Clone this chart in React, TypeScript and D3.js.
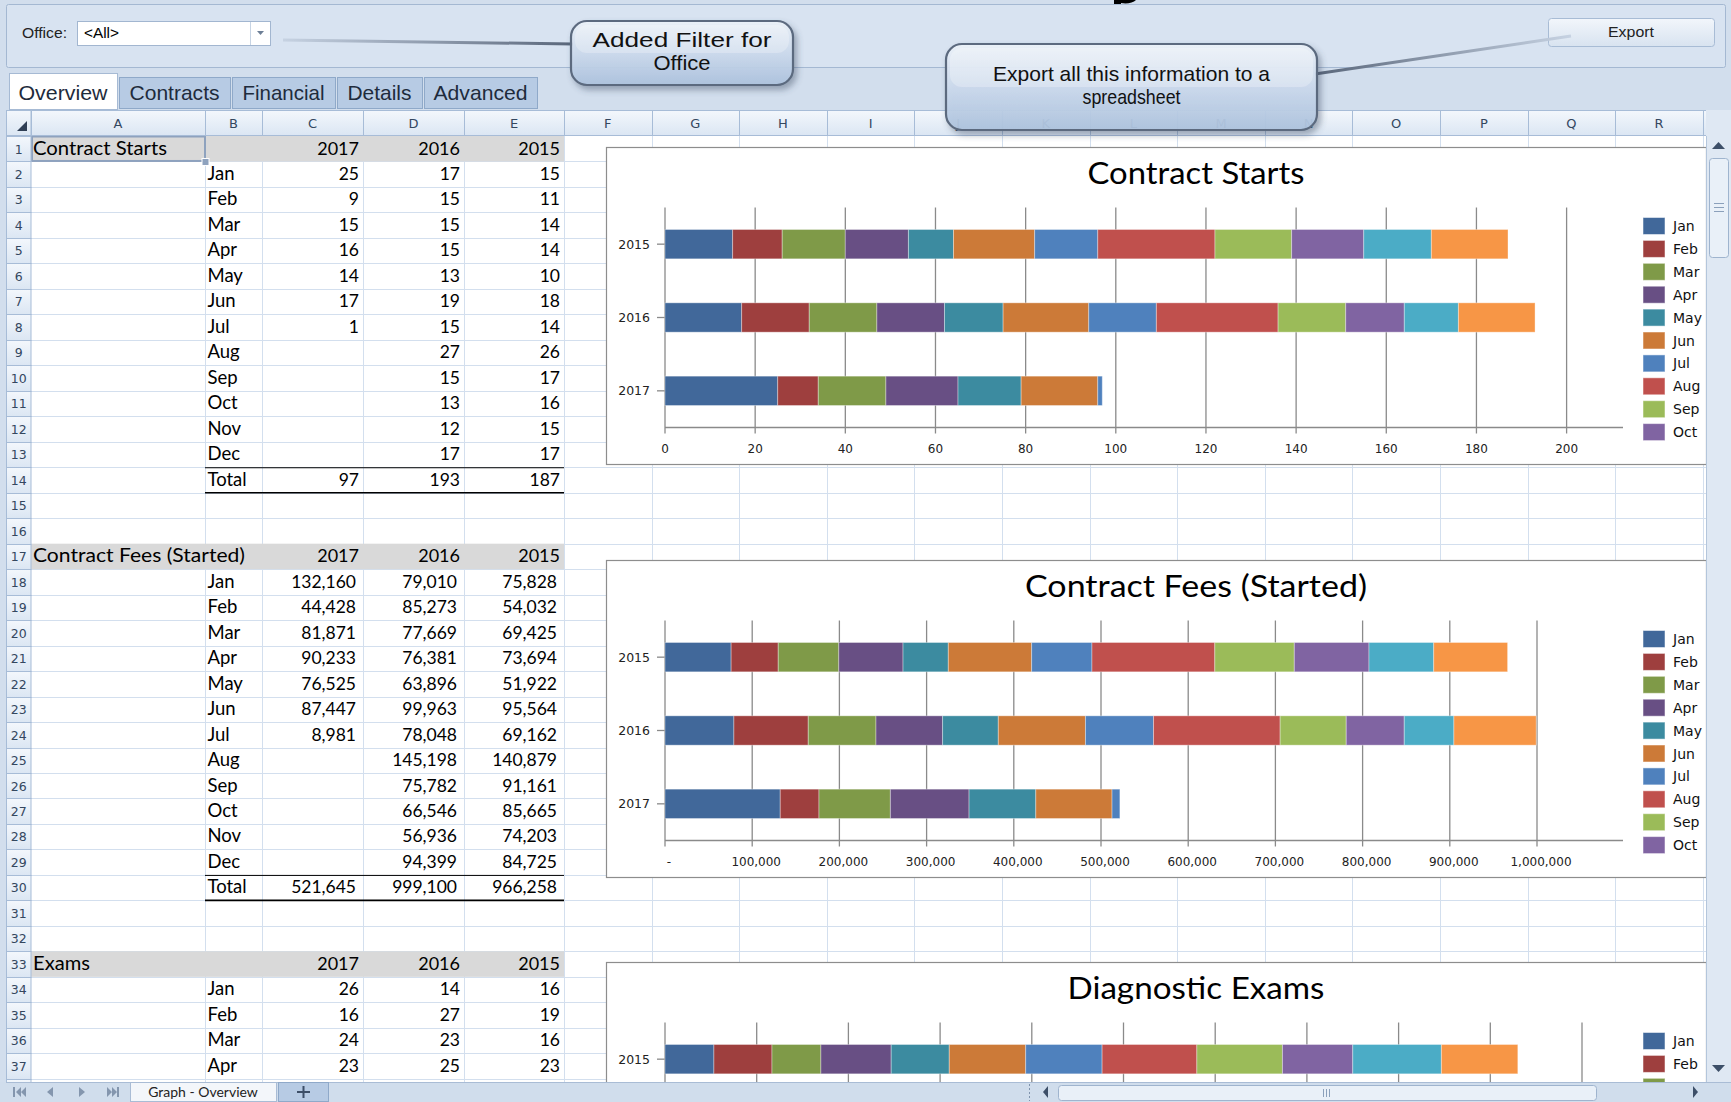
import React from "react";
import * as d3 from "d3";

const months = ["Jan", "Feb", "Mar", "Apr", "May", "Jun", "Jul", "Aug", "Sep", "Oct", "Nov", "Dec"];
const tableYears = ["2017", "2016", "2015"];
const chartYears = ["2015", "2016", "2017"];

const starts2017 = [25, 9, 15, 16, 14, 17, 1];
const starts2016 = [17, 15, 15, 15, 13, 19, 15, 27, 15, 13, 12, 17];
const starts2015 = [15, 11, 14, 14, 10, 18, 14, 26, 17, 16, 15, 17];
const startsTotals = [97, 193, 187]; // 2017, 2016, 2015

const fees2017 = [132160, 44428, 81871, 90233, 76525, 87447, 8981];
const fees2016 = [79010, 85273, 77669, 76381, 63896, 99963, 78048, 145198, 75782, 66546, 56936, 94399];
const fees2015 = [75828, 54032, 69425, 73694, 51922, 95564, 69162, 140879, 91161, 85665, 74203, 84725];
const feesTotals = [521645, 999100, 966258]; // 2017, 2016, 2015

const exams2017 = [26, 16, 24, 23];
const exams2016 = [14, 27, 23, 25];
const exams2015 = [16, 19, 16, 23, 19, 25, 25, 31, 28, 23, 29, 25];

const startsTicks = [0, 20, 40, 60, 80, 100, 120, 140, 160, 180, 200];
const feesTicks = [0, 100000, 200000, 300000, 400000, 500000, 600000, 700000, 800000, 900000, 1000000];
const examsTicks = [0, 30, 60, 90, 120, 150, 180, 210, 240, 270, 300];

const monthColors = [
  "#41689a", "#9e3f3e", "#7f9a48", "#684f84", "#3c8ba0", "#cc7a38",
  "#4f81bd", "#c0504d", "#9bbb59", "#8064a2", "#4bacc6", "#f79646",
];

const columnLetters = ["A", "B", "C", "D", "E", "F", "G", "H", "I", "J", "K", "L", "M", "N", "O", "P", "Q", "R"];
const tabNames = ["Overview", "Contracts", "Financial", "Details", "Advanced"];

// ---------- layout ----------
const W = 1731;
const H = 1102;
const ROW_TOP = 136;
const ROW_H = 25.48;
const rowY = (r: number) => ROW_TOP + (r - 1) * ROW_H;
const colEdges = [31, 205, 262, 363, 464, 564];
for (let k = 1; k <= 13; k++) colEdges.push(564 + k * 87.6);
const SHEET_RIGHT = 1706;
const SHEET_BOTTOM = 1082;

const CELL_FONT = "Lato, 'Open Sans', sans-serif";
const UI_FONT = "'Liberation Sans Narrow', 'Arial Narrow', 'Liberation Sans', sans-serif";
const CHART_FONT = "'DejaVu Sans', Verdana, sans-serif";
const NUM_SIZE = 17.5;
const TXT_SIZE = 18.5;

const fmtInt = d3.format("d");
const fmtComma = d3.format(",");

type SectionProps = {
  startRow: number;
  title: string;
  titleLen: number;
  cols: (number[])[]; // in order 2017, 2016, 2015
  totals?: number[];
  fmt: (n: number) => string;
  pad: number;
  monthRows: number;
};

function Section({ startRow, title, titleLen, cols, totals, fmt, pad, monthRows }: SectionProps) {
  const yTop = rowY(startRow);
  const els: React.ReactNode[] = [];
  els.push(<rect key="bg" x={colEdges[0]} y={yTop} width={colEdges[5] - colEdges[0]} height={ROW_H} fill="#d9d9d9" />);
  els.push(
    <text key="t" x={colEdges[0] + 2} y={yTop + 18.5} fontSize={TXT_SIZE} fontFamily={CELL_FONT} fill="#000" textLength={titleLen} lengthAdjust="spacingAndGlyphs">
      {title}
    </text>
  );
  tableYears.forEach((yr, i) => {
    els.push(
      <text key={"y" + yr} x={colEdges[3 + i] - 4} y={yTop + 18.5} fontSize={NUM_SIZE + 0.5} fontFamily={CELL_FONT} textAnchor="end">
        {yr}
      </text>
    );
  });
  for (let j = 0; j < monthRows; j++) {
    const yy = rowY(startRow + 1 + j);
    els.push(
      <text key={"m" + j} x={colEdges[1] + 2.5} y={yy + 18.5} fontSize={TXT_SIZE} fontFamily={CELL_FONT}>
        {months[j]}
      </text>
    );
    cols.forEach((arr, i) => {
      if (arr[j] !== undefined) {
        els.push(
          <text key={"v" + j + "-" + i} x={colEdges[3 + i] - pad} y={yy + 18.5} fontSize={NUM_SIZE} fontFamily={CELL_FONT} textAnchor="end">
            {fmt(arr[j])}
          </text>
        );
      }
    });
  }
  if (totals) {
    const tr = startRow + 13;
    const yy = rowY(tr);
    els.push(<line key="tl1" x1={colEdges[1]} x2={colEdges[5]} y1={yy + 0.5} y2={yy + 0.5} stroke="#000" strokeWidth={1} />);
    els.push(<line key="tl2" x1={colEdges[1]} x2={colEdges[5]} y1={yy + ROW_H} y2={yy + ROW_H} stroke="#000" strokeWidth={1.6} />);
    els.push(
      <text key="tt" x={colEdges[1] + 2.5} y={yy + 18.5} fontSize={TXT_SIZE} fontFamily={CELL_FONT}>
        Total
      </text>
    );
    totals.forEach((v, i) => {
      els.push(
        <text key={"tv" + i} x={colEdges[3 + i] - pad} y={yy + 18.5} fontSize={NUM_SIZE} fontFamily={CELL_FONT} textAnchor="end">
          {fmt(v)}
        </text>
      );
    });
  }
  return <g>{els}</g>;
}

type ChartProps = {
  top: number;
  title: string;
  titleLen: number;
  byYear: (number[])[]; // order 2015, 2016, 2017
  ticks: number[];
  xEnd: number;
  tickFormat: (n: number) => string;
  labelShift?: number;
};

function StackedBarChart({ top, title, titleLen, byYear, ticks, xEnd, tickFormat, labelShift = 0 }: ChartProps) {
  const X0 = 665;
  const x = d3.scaleLinear().domain([0, ticks[ticks.length - 1]]).range([X0, xEnd]);
  const y = d3.scaleBand<string>().domain(chartYears).range([top + 60.5, top + 280.5]);
  const table = chartYears.map((yr, i) => {
    const row: any = { year: yr };
    months.forEach((m, j) => {
      row[m] = byYear[i][j] ?? 0;
    });
    return row;
  });
  const series = d3.stack<any>().keys(months)(table);
  const bh = y.bandwidth() * 0.4;
  const axisY = top + 280.5;
  const visible = (yy: number) => yy < SHEET_BOTTOM;
  return (
    <g>
      <rect x={606.5} y={top + 0.5} width={1100} height={317} fill="#fff" stroke="#8d8d8d" strokeWidth={1.2} />
      <text
        x={1196}
        y={top + 37}
        textAnchor="middle"
        fontSize={30}
        fontFamily={CELL_FONT}
        fill="#000"
        textLength={titleLen}
        lengthAdjust="spacingAndGlyphs"
      >
        {title}
      </text>
      {ticks.map((t) => (
        <line key={"g" + t} x1={x(t)} x2={x(t)} y1={top + 60.5} y2={axisY + 6} stroke="#8a8a8a" strokeWidth={1.3} />
      ))}
      <line x1={X0} x2={1623} y1={axisY} y2={axisY} stroke="#8a8a8a" strokeWidth={1.3} />
      {chartYears.map((yr) => {
        const cy = (y(yr) as number) + y.bandwidth() / 2;
        return (
          <g key={"c" + yr}>
            <line x1={657} x2={X0} y1={cy} y2={cy} stroke="#8a8a8a" strokeWidth={1.3} />
            {visible(cy + 4.5) && (
              <text x={650} y={cy + 4.5} textAnchor="end" fontSize={12.5} fontFamily={CHART_FONT} fill="#222">
                {yr}
              </text>
            )}
          </g>
        );
      })}
      {series.map((s, k) => (
        <g key={"s" + k} fill={monthColors[k]}>
          {s.map((d: any) => {
            const w = x(d[1]) - x(d[0]);
            if (w <= 0) return null;
            const cy = (y(d.data.year) as number) + y.bandwidth() / 2;
            return (
              <rect
                key={d.data.year}
                x={x(d[0])}
                y={cy - bh / 2}
                width={w}
                height={bh}
                stroke="#ffffff"
                strokeOpacity={0.35}
                strokeWidth={1}
              />
            );
          })}
        </g>
      ))}
      {visible(top + 306) &&
        ticks.map((t) => (
          <text key={"tl" + t} x={x(t) + labelShift} y={top + 306} textAnchor="middle" fontSize={12} fontFamily={CHART_FONT} fill="#222">
            {tickFormat(t)}
          </text>
        ))}
      {months.slice(0, 10).map((m, i) => {
        const cy = top + 79 + i * 22.9;
        if (cy - 8.5 > SHEET_BOTTOM) return null;
        return (
          <g key={"l" + m}>
            <rect x={1643} y={cy - 8.5} width={22} height={17} fill={monthColors[i]} stroke="#fff" strokeOpacity={0.5} />
            {visible(cy + 5) && (
              <text x={1673} y={cy + 5} fontSize={14} fontFamily={CHART_FONT} fill="#111">
                {m}
              </text>
            )}
          </g>
        );
      })}
    </g>
  );
}

function Callout({ x, y, w, h, lines, lens, ys }: { x: number; y: number; w: number; h: number; lines: string[]; lens: number[]; ys: number[] }) {
  return (
    <g>
      <rect x={x} y={y} width={w} height={h} rx={16} ry={16} fill="url(#calloutGrad)" fillOpacity={0.92} stroke="#5b6a7f" strokeWidth={2.2} filter="url(#shadow)" />
      <rect x={x + 4} y={y + 4} width={w - 8} height={h / 2 - 4} rx={12} ry={12} fill="#ffffff" fillOpacity={0.25} />
      {lines.map((l, i) => (
        <text
          key={i}
          x={x + w / 2}
          y={ys[i]}
          textAnchor="middle"
          fontSize={21}
          fontFamily={UI_FONT}
          fill="#111"
          textLength={lens[i]}
          lengthAdjust="spacingAndGlyphs"
        >
          {l}
        </text>
      ))}
    </g>
  );
}

export default function App() {
  const gridH: React.ReactNode[] = [];
  for (let r = 1; r <= 38; r++) {
    const yy = Math.round(rowY(r + 1)) + 0.5;
    gridH.push(<line key={"h" + r} x1={colEdges[0]} x2={SHEET_RIGHT} y1={yy} y2={yy} stroke="#d3dfee" strokeWidth={1} />);
  }
  const gridV = colEdges.slice(1).map((cx, i) => (
    <line key={"v" + i} x1={Math.round(cx) + 0.5} x2={Math.round(cx) + 0.5} y1={ROW_TOP} y2={SHEET_BOTTOM} stroke="#d3dfee" strokeWidth={1} />
  ));

  const tabX = [
    [9, 117],
    [119, 230],
    [232, 335],
    [337, 422],
    [424, 537],
  ];
  const tabTextLen = [89, 90, 82, 64, 94];

  return (
    <svg width={W} height={H} style={{ position: "absolute", left: 0, top: 0, display: "block" }}>
      <defs>
        <linearGradient id="calloutGrad" x1="0" y1="0" x2="0" y2="1">
          <stop offset="0" stopColor="#edf3fa" />
          <stop offset="0.5" stopColor="#cddbee" />
          <stop offset="1" stopColor="#aec4df" />
        </linearGradient>
        <linearGradient id="hdrGrad" x1="0" y1="0" x2="0" y2="1">
          <stop offset="0" stopColor="#f3f7fc" />
          <stop offset="1" stopColor="#dbe6f3" />
        </linearGradient>
        <linearGradient id="btnGrad" x1="0" y1="0" x2="0" y2="1">
          <stop offset="0" stopColor="#f2f6fb" />
          <stop offset="1" stopColor="#d8e3f0" />
        </linearGradient>
        <linearGradient id="lineGrad" x1="0" y1="0" x2="1" y2="0">
          <stop offset="0" stopColor="#c6d2e2" />
          <stop offset="1" stopColor="#59667a" />
        </linearGradient>
        <linearGradient id="lineGrad2" x1="0" y1="0" x2="1" y2="0">
          <stop offset="0" stopColor="#59667a" />
          <stop offset="1" stopColor="#c6d2e2" />
        </linearGradient>
        <filter id="shadow" x="-10%" y="-20%" width="125%" height="150%">
          <feDropShadow dx="3" dy="4" stdDeviation="3" floodColor="#3a4a60" floodOpacity="0.45" />
        </filter>
      </defs>

      {/* page background */}
      <rect x={0} y={0} width={W} height={H} fill="#d2deed" />
      {/* descender of a heading cut off above the screenshot */}
      <path d="M1114,0 L1121,0 L1121,5 L1114,5 Z M1121,0 L1136,0 C1133,3 1127,4 1121,3 Z" fill="#000" />

      {/* toolbar panel */}
      <rect x={6.5} y={4.5} width={1719} height={63} fill="#d8e3f1" stroke="#a4b8d2" strokeWidth={1} rx={2} />
      <text x={22} y={38} fontSize={14.5} fontFamily={UI_FONT} fill="#222" textLength={45} lengthAdjust="spacingAndGlyphs">
        Office:
      </text>
      <rect x={77.5} y={21.5} width={193} height={24} fill="#fff" stroke="#a2b6d0" />
      <line x1={250.5} x2={250.5} y1={22} y2={45} stroke="#c7d4e4" />
      <path d="M257,31 L264,31 L260.5,35 Z" fill="#6d7f96" />
      <text x={84} y={38} fontSize={14} fontFamily={UI_FONT} fill="#000" textLength={35} lengthAdjust="spacingAndGlyphs">
        {"<All>"}
      </text>
      <rect x={1548.5} y={18.5} width={166} height={28} rx={3} fill="url(#btnGrad)" stroke="#a8bcd5" />
      <text x={1631} y={37} textAnchor="middle" fontSize={15} fontFamily={UI_FONT} fill="#222" textLength={46} lengthAdjust="spacingAndGlyphs">
        Export
      </text>

      {/* tabs */}
      {tabNames.map((t, i) => {
        const active = i === 0;
        const [x1, x2] = tabX[i];
        return (
          <g key={t}>
            <rect
              x={x1 + 0.5}
              y={active ? 73.5 : 77.5}
              width={x2 - x1}
              height={active ? 36 : 31}
              fill={active ? "#ffffff" : "#b7cbe4"}
              stroke={active ? "#a6bad4" : "#8fa9c9"}
            />
            <text
              x={(x1 + x2) / 2}
              y={100}
              textAnchor="middle"
              fontSize={21}
              fontFamily={UI_FONT}
              fill="#1e2b3c"
              textLength={tabTextLen[i]}
              lengthAdjust="spacingAndGlyphs"
            >
              {t}
            </text>
          </g>
        );
      })}

      {/* sheet body */}
      <rect x={colEdges[0]} y={ROW_TOP} width={SHEET_RIGHT - colEdges[0]} height={SHEET_BOTTOM - ROW_TOP} fill="#ffffff" />
      {gridH}
      {gridV}

      {/* data sections */}
      <Section startRow={1} title="Contract Starts" titleLen={134} cols={[starts2017, starts2016, starts2015]} totals={startsTotals} fmt={fmtInt} pad={4} monthRows={12} />
      <Section startRow={17} title="Contract Fees (Started)" titleLen={212} cols={[fees2017, fees2016, fees2015]} totals={feesTotals} fmt={fmtComma} pad={7} monthRows={12} />
      <Section startRow={33} title="Exams" titleLen={57} cols={[exams2017, exams2016, exams2015]} fmt={fmtInt} pad={4} monthRows={4} />

      {/* A1 selection */}
      <rect x={colEdges[0] + 1} y={rowY(1) + 0.5} width={colEdges[1] - colEdges[0] - 1} height={ROW_H - 1} fill="none" stroke="#8ea2be" strokeWidth={2} />
      <rect x={colEdges[1] - 3} y={rowY(2) - 3} width={7} height={7} fill="#8ea2be" stroke="#fff" strokeWidth={1} />

      {/* charts */}
      <StackedBarChart
        top={147}
        title="Contract Starts"
        titleLen={217}
        byYear={[starts2015, starts2016, starts2017]}
        ticks={startsTicks}
        xEnd={1566.6}
        tickFormat={(t) => String(t)}
      />
      <StackedBarChart
        top={560}
        title="Contract Fees (Started)"
        titleLen={342}
        byYear={[fees2015, fees2016, fees2017]}
        ticks={feesTicks}
        xEnd={1537}
        tickFormat={(t) => (t === 0 ? "-" : fmtComma(t))}
        labelShift={4}
      />
      <StackedBarChart
        top={962}
        title="Diagnostic Exams"
        titleLen={257}
        byYear={[exams2015, exams2016, exams2017]}
        ticks={examsTicks}
        xEnd={1582}
        tickFormat={(t) => String(t)}
      />

      {/* column headers */}
      <rect x={6.5} y={110.5} width={24.5} height={25} fill="url(#hdrGrad)" stroke="#a7bcd7" />
      <path d="M27,131 L27,121 L17,131 Z" fill="#2f3f55" />
      {columnLetters.map((c, i) => {
        const x1 = colEdges[i];
        const x2 = colEdges[i + 1];
        return (
          <g key={"ch" + c}>
            <rect x={Math.round(x1) + 0.5} y={110.5} width={Math.round(x2) - Math.round(x1)} height={25} fill="url(#hdrGrad)" stroke="#a7bcd7" />
            <text x={(x1 + x2) / 2} y={128} textAnchor="middle" fontSize={13} fontFamily={CHART_FONT} fill="#34475f">
              {c}
            </text>
          </g>
        );
      })}
      <rect x={1703.5} y={110.5} width={3} height={25} fill="url(#hdrGrad)" stroke="#a7bcd7" />

      {/* row headers */}
      {d3.range(1, 39).map((r) => (
        <g key={"rh" + r}>
          <rect x={6.5} y={Math.round(rowY(r)) + 0.5} width={24.5} height={Math.round(rowY(r + 1)) - Math.round(rowY(r))} fill="url(#hdrGrad)" stroke="#a7bcd7" />
          {rowY(r) + 17.5 < SHEET_BOTTOM && (
            <text x={18.8} y={rowY(r) + 17.5} textAnchor="middle" fontSize={12.5} fontFamily={CHART_FONT} fill="#34475f">
              {r}
            </text>
          )}
        </g>
      ))}

      {/* callouts and pointers */}
      <line x1={283} y1={40} x2={573} y2={44} stroke="url(#lineGrad)" strokeWidth={3} />
      <Callout x={571} y={21} w={222} h={64} lines={["Added Filter for", "Office"]} lens={[179, 57]} ys={[47, 70]} />
      <line x1={1315} y1={74} x2={1571} y2={36} stroke="url(#lineGrad2)" strokeWidth={3} />
      <Callout x={946} y={44} w={371} h={86} lines={["Export all this information to a", "spreadsheet"]} lens={[277, 98]} ys={[81, 104]} />

      {/* vertical scrollbar */}
      <rect x={1706} y={110} width={25} height={972} fill="#dfe8f3" />
      <line x1={1706.5} x2={1706.5} y1={136} y2={1082} stroke="#b4c6dc" />
      <path d="M1712,149 L1725,149 L1718.5,142 Z" fill="#3d4f68" />
      <rect x={1709.5} y={158.5} width={19} height={99} rx={3} fill="#e9f0f8" stroke="#9fb4ce" />
      <line x1={1714} x2={1724} y1={203.5} y2={203.5} stroke="#8ba0bb" />
      <line x1={1714} x2={1724} y1={207.5} y2={207.5} stroke="#8ba0bb" />
      <line x1={1714} x2={1724} y1={211.5} y2={211.5} stroke="#8ba0bb" />
      <path d="M1712,1065 L1725,1065 L1718.5,1072 Z" fill="#3d4f68" />

      {/* bottom bar */}
      <rect x={0} y={1082} width={W} height={20} fill="#d0ddec" />
      <line x1={6} x2={1731} y1={1082.5} y2={1082.5} stroke="#a9bcd5" />
      <g fill="#8496ae">
        <path d="M13,1087 L15,1087 L15,1097 L13,1097 Z M21,1087 L21,1097 L16,1092 Z M26,1087 L26,1097 L21,1092 Z" />
        <path d="M53,1087 L53,1097 L47,1092 Z" />
        <path d="M79,1087 L79,1097 L85,1092 Z" />
        <path d="M107,1087 L107,1097 L112,1092 Z M112,1087 L112,1097 L117,1092 Z M117,1087 L119,1087 L119,1097 L117,1097 Z" />
      </g>
      <rect x={130.5} y={1082.5} width={146} height={19} fill="#f3f6fa" stroke="#a9bcd5" />
      <text x={203} y={1097} textAnchor="middle" fontSize={14} fontFamily={CELL_FONT} fill="#222">
        Graph - Overview
      </text>
      <rect x={278.5} y={1082.5} width={50} height={19} fill="#b7cbe4" stroke="#8fa9c9" />
      <path d="M297,1092 L310,1092 M303.5,1086 L303.5,1098" stroke="#3d4f68" strokeWidth={2} />
      <line x1={1029.5} x2={1029.5} y1={1084} y2={1101} stroke="#7f93ad" strokeDasharray="2,2" />
      <path d="M1048,1086 L1048,1098 L1043,1092 Z" fill="#3d4f68" />
      <rect x={1058.5} y={1085.5} width={538} height={15} rx={3} fill="#e9f0f8" stroke="#9fb4ce" />
      <line x1={1323.5} x2={1323.5} y1={1089} y2={1097} stroke="#8ba0bb" />
      <line x1={1326.5} x2={1326.5} y1={1089} y2={1097} stroke="#8ba0bb" />
      <line x1={1329.5} x2={1329.5} y1={1089} y2={1097} stroke="#8ba0bb" />
      <path d="M1693,1086 L1693,1098 L1698,1092 Z" fill="#3d4f68" />
    </svg>
  );
}
